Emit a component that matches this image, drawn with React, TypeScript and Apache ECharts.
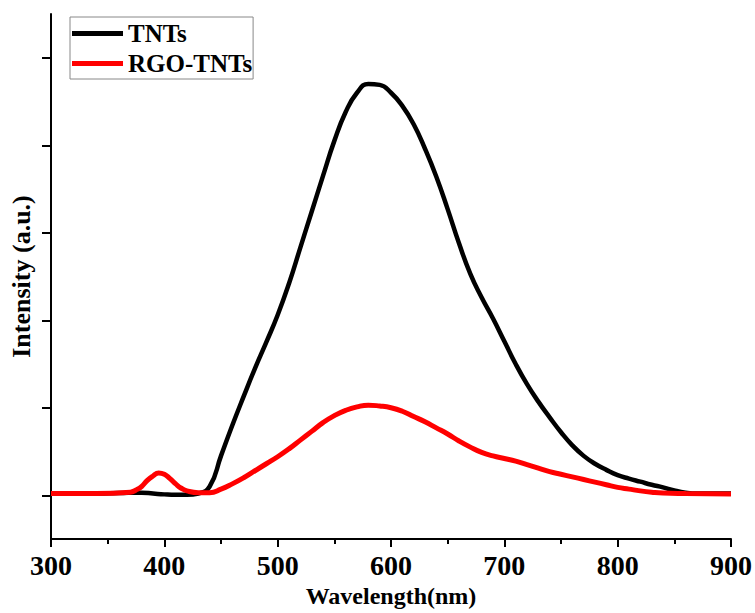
import React, { useEffect, useRef } from "react";
import * as echarts from "echarts";

const xTicks = [300, 400, 500, 600, 700, 800, 900];
const yTickValues = [0, 1, 2, 3, 4, 5];

const tntsNm = [300, 320, 340, 360, 380, 390, 400, 410, 420, 430, 440, 450, 460, 470, 480, 490, 500, 510, 520, 530, 540, 550, 560, 570, 580, 590, 600, 610, 620, 630, 640, 650, 660, 670, 680, 690, 700, 710, 720, 730, 740, 750, 760, 770, 780, 790, 800, 810, 820, 830, 840, 850, 860, 870, 880, 900];
const tntsVal = [0.02, 0.02, 0.02, 0.025, 0.03, 0.02, 0.01, 0.005, 0.005, 0.02, 0.1, 0.45, 0.8, 1.13, 1.45, 1.75, 2.06, 2.42, 2.83, 3.24, 3.65, 4.05, 4.38, 4.6, 4.7, 4.69, 4.6, 4.45, 4.24, 3.96, 3.64, 3.27, 2.88, 2.53, 2.26, 2.02, 1.76, 1.5, 1.27, 1.07, 0.89, 0.72, 0.57, 0.45, 0.36, 0.29, 0.23, 0.19, 0.155, 0.12, 0.09, 0.055, 0.03, 0.02, 0.02, 0.02];

const rgoNm = [300, 340, 370, 375, 380, 385, 390, 395, 400, 405, 410, 415, 420, 430, 440, 450, 460, 470, 480, 490, 500, 510, 520, 530, 540, 550, 560, 570, 580, 590, 600, 610, 620, 630, 640, 650, 660, 670, 680, 690, 700, 710, 720, 730, 740, 750, 760, 770, 780, 790, 800, 810, 820, 830, 840, 860, 900];
const rgoVal = [0.02, 0.02, 0.035, 0.06, 0.1, 0.17, 0.22, 0.255, 0.24, 0.19, 0.13, 0.08, 0.05, 0.03, 0.03, 0.07, 0.13, 0.2, 0.28, 0.36, 0.44, 0.53, 0.63, 0.73, 0.83, 0.91, 0.97, 1.01, 1.03, 1.02, 1.0, 0.96, 0.9, 0.84, 0.77, 0.7, 0.62, 0.55, 0.49, 0.45, 0.42, 0.39, 0.35, 0.31, 0.27, 0.24, 0.21, 0.18, 0.15, 0.12, 0.09, 0.07, 0.05, 0.035, 0.025, 0.02, 0.015];

const FONT = "'Liberation Serif', 'Times New Roman', serif";

export default function App() {
  const ref = useRef<HTMLDivElement>(null);
  useEffect(() => {
    if (!ref.current) return;
    const chart = echarts.init(ref.current, undefined, { renderer: "svg" });
    chart.setOption({
      animation: false,
      backgroundColor: "#ffffff",
      grid: { left: 51, right: 23.5, top: 14, bottom: 71, containLabel: false },
      legend: {
        orient: "vertical",
        left: 70,
        top: 17,
        padding: [4, 1, 3, 2],
        itemGap: 5,
        itemWidth: 51,
        itemHeight: 5,
        icon: "rect",
        borderColor: "#888",
        borderWidth: 1,
        textStyle: { fontFamily: FONT, fontWeight: "bold", fontSize: 25, color: "#000" },
        data: ["TNTs", "RGO-TNTs"],
      },
      xAxis: {
        type: "value",
        min: 300,
        max: 900,
        interval: 100,
        name: "Wavelength(nm)",
        nameLocation: "middle",
        nameGap: 45,
        nameTextStyle: { fontFamily: FONT, fontWeight: "bold", fontSize: 24, color: "#000" },
        axisLine: { onZero: false, lineStyle: { color: "#000", width: 2 } },
        axisTick: { show: true, inside: false, length: 8, lineStyle: { color: "#000", width: 2 } },
        minorTick: { show: true, splitNumber: 2, length: 5, lineStyle: { color: "#000", width: 2 } },
        axisLabel: { fontFamily: FONT, fontWeight: "bold", fontSize: 28, color: "#000", margin: 12, customValues: xTicks },
        splitLine: { show: false },
      },
      yAxis: {
        type: "value",
        min: -0.5,
        max: 5.5,
        name: "Intensity (a.u.)",
        nameLocation: "middle",
        nameGap: 17,
        nameTextStyle: { fontFamily: FONT, fontWeight: "bold", fontSize: 26, color: "#000" },
        axisLine: { show: true, onZero: false, lineStyle: { color: "#000", width: 2 } },
        axisTick: { show: true, inside: false, length: 9, customValues: yTickValues, lineStyle: { color: "#000", width: 2 } },
        axisLabel: { show: false },
        splitLine: { show: false },
      },
      series: [
        {
          name: "TNTs",
          type: "line",
          data: tntsNm.map((x, i) => [x, tntsVal[i]]),
          smooth: 0.5,
          showSymbol: false,
          symbol: "none",
          color: "#000000",
          lineStyle: { color: "#000000", width: 4.5 },
          z: 2,
        },
        {
          name: "RGO-TNTs",
          type: "line",
          data: rgoNm.map((x, i) => [x, rgoVal[i]]),
          smooth: 0.5,
          showSymbol: false,
          symbol: "none",
          color: "#ff0000",
          lineStyle: { color: "#ff0000", width: 5 },
          z: 3,
        },
      ],
    });
    return () => chart.dispose();
  }, []);
  return (
    <div
      ref={ref}
      style={{ position: "absolute", left: 0, top: 0, width: 755, height: 613, background: "#fff" }}
    />
  );
}
